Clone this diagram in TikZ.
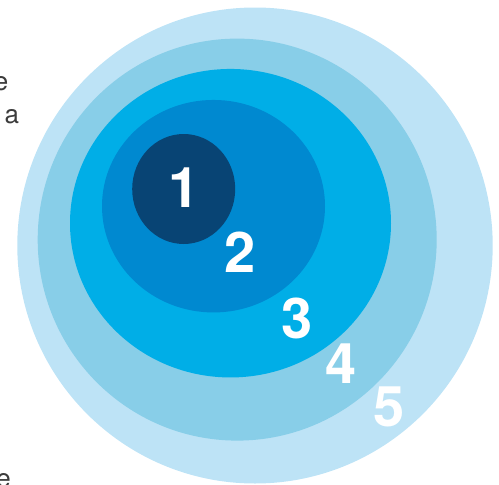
\documentclass[tikz,border=0pt]{standalone}
\usepackage{fontspec}
\setmainfont{TeX Gyre Heros}
\usetikzlibrary{shapes.geometric}
\definecolor{ringfive}{RGB}{189,227,246}
\definecolor{ringfour}{RGB}{136,206,232}
\definecolor{ringthree}{RGB}{0,174,231}
\definecolor{ringtwo}{RGB}{0,137,208}
\definecolor{ringone}{RGB}{8,68,116}
\definecolor{bodytext}{RGB}{60,60,60}
\tikzset{
  ring/.style={ellipse, draw=none, inner sep=0pt, outer sep=0pt},
  numlabel/.style={text=white, inner sep=0pt, font=\fontsize{56}{56}\selectfont\bfseries},
  fragment/.style={text=bodytext, inner sep=0pt, font=\fontsize{26}{26}\selectfont}
}
\begin{document}
\begin{tikzpicture}[x=1pt,y=-1pt]
\useasboundingbox (0,0) rectangle (499,485);
\clip (0,0) rectangle (499,485);
\node[ring, fill=ringfive, minimum width=475.4pt, minimum height=476pt] (c5) at (255,245.5) {};
\node[ring, fill=ringfour, minimum width=399pt, minimum height=402pt] (c4) at (237.2,239.6) {};
\node[ring, fill=ringthree, minimum width=321pt, minimum height=308.5pt] (c3) at (230.5,223.2) {};
\node[ring, fill=ringtwo, minimum width=223pt, minimum height=212.5pt] (c2) at (213.5,206.2) {};
\node[ring, fill=ringone, minimum width=103pt, minimum height=110pt] (c1) at (183.7,189) {};
\node[numlabel] (n1) at (184.5,187.5) {1};
\node[numlabel] (n2) at (240.5,252) {2};
\node[numlabel] (n3) at (297,318) {3};
\node[numlabel] (n4) at (341.5,364) {4};
\node[numlabel] (n5) at (389.5,407) {5};
\node[fragment, anchor=base east] (t1) at (8.5,90) {e};
\node[fragment, anchor=base west] (t2) at (4.5,123) {a};
\node[fragment, anchor=base east] (t3) at (11,487.5) {e};
\end{tikzpicture}
\end{document}
